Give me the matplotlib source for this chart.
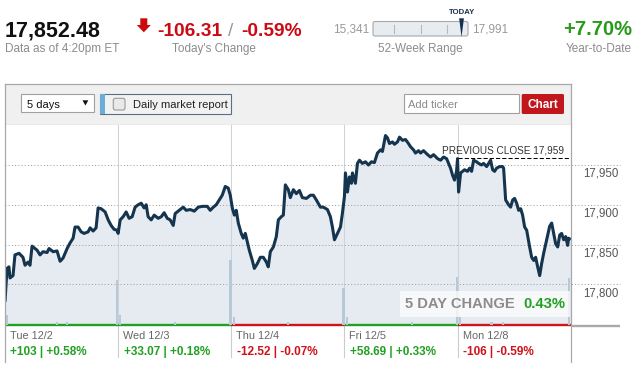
import matplotlib
matplotlib.use("Agg")
import matplotlib.pyplot as plt
from matplotlib.patches import Rectangle, Polygon, FancyBboxPatch
from matplotlib.transforms import blended_transform_factory, offset_copy

plt.rcParams['font.family'] = ['Liberation Sans', 'DejaVu Sans']

# ---------------- data ----------------
last_price = 17852.48
today_change = -106.31
today_pct = -0.59
week52_low = 15341
week52_high = 17991
ytd_pct = 7.70
prev_close = 17959
five_day_pct = 0.43

day_labels = ["Tue 12/2", "Wed 12/3", "Thu 12/4", "Fri 12/5", "Mon 12/8"]
day_change = [103, 33.07, -12.52, 58.69, -106]
day_pct = [0.58, 0.18, -0.07, 0.33, -0.59]

y_ticks = [17800, 17850, 17900, 17950]

# session time in trading days (0 = Tue open, 5 = Mon close)
times = [
    # Tue
    0.000, 0.018, 0.035, 0.044, 0.071, 0.088, 0.124, 0.159, 0.177, 0.204,
    0.221, 0.239, 0.283, 0.310, 0.336, 0.372, 0.389, 0.425, 0.460, 0.487,
    0.513, 0.549, 0.575, 0.602, 0.619, 0.646, 0.673, 0.699, 0.735, 0.752,
    0.779, 0.805, 0.823, 0.850, 0.885, 0.912, 0.938, 0.965, 0.991,
    # Wed
    1.000, 1.018, 1.044, 1.071, 1.097, 1.124, 1.150, 1.177, 1.204, 1.230,
    1.248, 1.265, 1.292, 1.319, 1.354, 1.381, 1.407, 1.434, 1.460, 1.487,
    1.504, 1.540, 1.575, 1.602, 1.637, 1.673, 1.708, 1.743, 1.788, 1.814,
    1.841, 1.867, 1.894, 1.920, 1.947, 1.973, 1.991,
    # Thu
    2.009, 2.027, 2.044, 2.062, 2.088, 2.106, 2.124, 2.142, 2.159, 2.186,
    2.204, 2.230, 2.257, 2.283, 2.310, 2.327, 2.345, 2.372, 2.398, 2.416,
    2.442, 2.460, 2.478, 2.504, 2.522, 2.549, 2.575, 2.602, 2.628, 2.664,
    2.699, 2.726, 2.752, 2.788, 2.814, 2.850, 2.876, 2.894, 2.912, 2.938,
    2.965, 2.982,
    # Fri
    3.000, 3.009, 3.027, 3.044, 3.062, 3.071, 3.097, 3.115, 3.133, 3.159,
    3.186, 3.212, 3.239, 3.265, 3.292, 3.319, 3.336, 3.363, 3.381, 3.398,
    3.425, 3.442, 3.469, 3.487, 3.513, 3.540, 3.566, 3.584, 3.611, 3.628,
    3.655, 3.673, 3.699, 3.735, 3.761, 3.788, 3.823, 3.850, 3.876, 3.903,
    3.920, 3.938, 3.956, 3.973, 3.991,
    # Mon
    4.000, 4.009, 4.027, 4.044, 4.062, 4.088, 4.106, 4.124, 4.142, 4.168,
    4.186, 4.212, 4.230, 4.257, 4.274, 4.292, 4.310, 4.327, 4.345, 4.372,
    4.398, 4.407, 4.425, 4.451, 4.469, 4.487, 4.504, 4.522, 4.540, 4.558,
    4.575, 4.593, 4.611, 4.637, 4.655, 4.673, 4.690, 4.708, 4.726, 4.743,
    4.761, 4.788, 4.814, 4.832, 4.850, 4.867, 4.885, 4.903, 4.920, 4.938,
    4.956, 4.973, 4.982, 5.000,
]
prices = [
    # Tue
    17778, 17820, 17822, 17808, 17811, 17837, 17839, 17834, 17824, 17828,
    17824, 17848, 17843, 17837, 17841, 17840, 17845, 17841, 17842, 17829,
    17833, 17845, 17852, 17858, 17872, 17872, 17866, 17864, 17866, 17871,
    17867, 17871, 17896, 17895, 17891, 17881, 17874, 17869, 17868,
    # Wed
    17864, 17881, 17885, 17891, 17883, 17885, 17897, 17900, 17902, 17896,
    17900, 17885, 17881, 17887, 17883, 17885, 17890, 17883, 17881, 17874,
    17889, 17893, 17897, 17893, 17894, 17892, 17897, 17898, 17898, 17893,
    17897, 17900, 17906, 17912, 17923, 17921, 17912,
    # Thu
    17896, 17887, 17893, 17877, 17864, 17858, 17864, 17853, 17843, 17830,
    17820, 17826, 17834, 17834, 17828, 17822, 17841, 17847, 17860, 17881,
    17885, 17887, 17925, 17919, 17909, 17919, 17914, 17918, 17909, 17908,
    17912, 17912, 17906, 17897, 17897, 17894, 17885, 17872, 17856, 17864,
    17872, 17889,
    # Fri
    17910, 17940, 17916, 17935, 17927, 17940, 17927, 17952, 17956, 17952,
    17954, 17950, 17954, 17953, 17965, 17969, 17967, 17987, 17984, 17977,
    17979, 17976, 17979, 17985, 17981, 17982, 17977, 17973, 17969, 17965,
    17968, 17965, 17968, 17963, 17960, 17963, 17958, 17956, 17960, 17958,
    17952, 17946, 17937, 17931, 17942,
    # Mon
    17958, 17916, 17940, 17942, 17944, 17942, 17946, 17942, 17956, 17954,
    17952, 17950, 17952, 17948, 17952, 17956, 17944, 17942, 17946, 17948,
    17948, 17946, 17906, 17900, 17897, 17906, 17908, 17902, 17893, 17895,
    17887, 17872, 17868, 17847, 17834, 17830, 17834, 17822, 17811, 17826,
    17839, 17856, 17873, 17877, 17864, 17851, 17847, 17862, 17864, 17856,
    17860, 17849, 17858, 17856,
]

vol_times = [0.015, 0.46, 0.55, 0.994, 1.02, 1.5, 1.993, 2.02, 2.5, 2.992,
             3.02, 3.6, 3.991, 4.02, 4.3, 4.4, 4.989]
vol_values = [10, 3, 3, 45, 10, 3, 65, 8, 3, 37,
              8, 3, 48, 8, 3, 3, 47]

# ---------------- layout helpers ----------------
W, H = 634, 368
fig = plt.figure(figsize=(W / 100, H / 100), dpi=100)
fig.patch.set_facecolor('white')


def px_rect(x0, y0, x1, y1):
    return [x0 / W, 1 - y1 / H, (x1 - x0) / W, (y1 - y0) / H]


GREEN = '#22a022'
RED = '#d0121b'
GRAY = '#8c8c8c'

# background overlay (pixel coords)
ov = fig.add_axes([0, 0, 1, 1])
ov.set_xlim(0, W)
ov.set_ylim(H, 0)
ov.axis('off')

# ---- header ----
ov.text(5, 36, f"{last_price:,.2f}", fontsize=15.5, fontweight='bold',
        color='#111111', va='baseline', ha='left')
ov.text(5, 52, "Data as of 4:20pm ET", fontsize=8.5, color=GRAY, va='baseline')

ov.add_patch(Polygon([(140.3, 18.3), (147.3, 18.3), (147.3, 25), (150.8, 25),
                      (143.8, 32.3), (136.8, 25), (140.3, 25)],
                     closed=True, fc='#cc0a0a', ec='none'))
ov.text(157, 36, f"{today_change:.2f}", fontsize=13.8, fontweight='bold',
        color='#cc0a14', va='baseline', ha='left')
ov.text(231, 36, "/", fontsize=13.8, color='#999999', va='baseline', ha='center')
ov.text(241, 36, f"{today_pct:.2f}%", fontsize=13.8, fontweight='bold',
        color='#cc0a14', va='baseline', ha='left')
ov.text(214, 52, "Today's Change", fontsize=8.5, color=GRAY, va='baseline', ha='center')

# 52-week range
bx0, bx1, by0, by1 = 373, 468, 21.5, 36
ov.text(369, 32, f"{week52_low:,}", fontsize=8.5, color='#999999', va='baseline', ha='right')
ov.text(472, 32, f"{week52_high:,}", fontsize=8.5, color='#999999', va='baseline', ha='left')
ov.add_patch(FancyBboxPatch((bx0, by0), bx1 - bx0, by1 - by0,
                            boxstyle='round,pad=0,rounding_size=2',
                            fc='#e7ecf1', ec='#a8a8a8', lw=0.8))
for tx in (394, 421, 447):
    ov.plot([tx, tx], [24.5, 33], color='#b8b8b8', lw=0.8)
frac = (last_price - week52_low) / (week52_high - week52_low)
mx = bx0 + frac * (bx1 - bx0) - 1.5
ov.add_patch(Polygon([(mx - 2.4, 18.3), (mx + 2.4, 18.3), (mx, 37)],
                     closed=True, fc='#13304f', ec='none'))
ov.text(mx + 1, 14, "TODAY", fontsize=5.6, fontweight='bold', color='#1b2f4d',
        va='baseline', ha='center')
ov.text(420, 52, "52-Week Range", fontsize=8.5, color=GRAY, va='baseline', ha='center')

ov.text(632, 35, f"{ytd_pct:+.2f}%", fontsize=14.5, fontweight='bold',
        color='#2a9a1a', va='baseline', ha='right')
ov.text(632, 52, "Year-to-Date", fontsize=8.5, color=GRAY, va='baseline', ha='right')

# ---- toolbar ----
ov.add_patch(Rectangle((4.5, 84), 566.2, 41, fc='#f0f0f0', ec='none'))
ov.plot([4.5, 570.7], [125, 125], color='#c4c4c4', lw=0.9)
# dropdown
ov.add_patch(Rectangle((20.7, 94), 73.6, 17.7, fc='white', ec='#a0a0a0', lw=0.8))
ov.text(26.7, 107.5, "5 days", fontsize=8, color='#111111', va='baseline')
ov.add_patch(Polygon([(82.5, 100.3), (88.3, 100.3), (85.4, 105.5)], closed=True,
                     fc='#111111', ec='none'))
# daily market report button
ov.add_patch(Rectangle((100, 94), 130.7, 20.3, fc='#f2f2f2', ec='#5a6e86', lw=0.8))
ov.add_patch(Rectangle((100.4, 94.4), 4.6, 19.5, fc='#6aaed6', ec='none'))
ov.add_patch(FancyBboxPatch((113.3, 98.3), 11.7, 11.7,
                            boxstyle='round,pad=0,rounding_size=2',
                            fc='#e9e9e9', ec='#9a9a9a', lw=0.8))
ov.text(132.7, 107.5, "Daily market report", fontsize=8, color='#222222', va='baseline')
# add ticker
ov.add_patch(Rectangle((404.3, 94), 114.7, 19.3, fc='white', ec='#a0a0a0', lw=0.8))
ov.text(407.5, 108, "Add ticker", fontsize=8, color='#8a8a8a', va='baseline')
ov.add_patch(FancyBboxPatch((521.7, 94), 42.3, 20, boxstyle='round,pad=0,rounding_size=1.5',
                            fc='#c0161c', ec='none'))
ov.text(542.8, 108.3, "Chart", fontsize=8.5, fontweight='bold', color='white',
        va='baseline', ha='center')

# ---------------- chart ----------------
ax = fig.add_axes(px_rect(5, 125, 570.7, 325))
ax.set_xlim(0, 5)
ax.set_ylim(17748.9, 18000.25)
ax.set_facecolor('white')
for s in ax.spines.values():
    s.set_visible(False)
ax.set_xticks([])
ax.set_yticks([])

ybot = ax.get_ylim()[0]
ax.fill_between(times, prices, ybot, color='#e6ebf1', lw=0, zorder=1)
for i in range(1, len(day_labels)):
    ax.axvline(i, color='#cdd3d9', lw=0.75, zorder=1.6)
ext = (620 - 5) / (570.7 - 5)
for v in y_ticks:
    ax.axhline(v, xmin=0, xmax=ext, clip_on=False, color='#9c9c9c', lw=0.72,
               ls=(0, (1, 2.2)), zorder=1.7)

ax.plot(times, prices, color='#15354f', lw=2.2, zorder=3,
        solid_joinstyle='round', solid_capstyle='butt')

# previous close
ax.hlines(prev_close, len(day_labels) - 1, len(day_labels), color='black', lw=0.75,
          ls=(0, (4, 2)), zorder=3.5)
ax.text(4.94, prev_close, f"PREVIOUS CLOSE {prev_close:,}", fontsize=7.2,
        color='#333333', ha='right', va='baseline', zorder=4,
        transform=offset_copy(ax.transData, fig=fig, x=0, y=4, units='dots'))

# y tick labels
ytrans = blended_transform_factory(ax.transAxes, ax.transData)
for v in y_ticks:
    ax.text(1, v, f"{v:,}", fontsize=8.3, color='#555555', ha='left', va='baseline',
            transform=offset_copy(ytrans, fig=fig, x=12.3, y=-11.7, units='dots'),
            clip_on=False)

# day bars and labels
xtrans = blended_transform_factory(ax.transData, ax.transAxes)
for i, (lab, ch, pc) in enumerate(zip(day_labels, day_change, day_pct)):
    col = GREEN if ch > 0 else RED
    ax.plot([i, i + 1], [0, 0], transform=xtrans, color=col, lw=1.7,
            solid_capstyle='butt', clip_on=False, zorder=6)
    if i > 0:
        ax.plot([i, i], [0, -32 / 200], transform=xtrans, color='#cccccc', lw=0.8,
                clip_on=False, zorder=5)
    ax.text(i, 0, lab, fontsize=7.8, color='#666666', ha='left', va='baseline',
            transform=offset_copy(xtrans, fig=fig, x=5, y=-14, units='dots'))
    ax.text(i, 0, f"{ch:+g} | {pc:+.2f}%", fontsize=8.5, fontweight='bold', color=col,
            ha='left', va='baseline',
            transform=offset_copy(xtrans, fig=fig, x=5.5, y=-30.5, units='dots'))

# volume
ax2 = ax.twinx()
ax2.set_ylim(0, 200)
ax2.bar(vol_times, vol_values, width=0.018, color='#b7c8d7', lw=0, zorder=2)
ax2.axis('off')

# ---------------- top overlay ----------------
top = fig.add_axes([0, 0, 1, 1])
top.set_xlim(0, W)
top.set_ylim(H, 0)
top.axis('off')
top.patch.set_alpha(0)

# panel borders
top.plot([4.5, 570.7], [84, 84], color='#a8a8a8', lw=0.9)
top.plot([4.5, 4.5], [84, 362], color='#a8a8a8', lw=0.9)
top.plot([570.7, 570.7], [84, 362], color='#a8a8a8', lw=0.9)
top.plot([570.7, 620], [325.5, 325.5], color='#a9a9a9', lw=1.7, solid_capstyle='butt')

# 5 day change box
top.add_patch(Rectangle((400, 290.7), 170.3, 26, fc='#fbfcfd', alpha=0.8, ec='none'))
top.text(405, 308.3, "5 DAY CHANGE", fontsize=10.6, fontweight='bold', color='#8c8c8c',
         va='baseline', ha='left')
top.text(565.5, 308.3, f"{five_day_pct:.2f}%", fontsize=10.6, fontweight='bold',
         color='#22a022', va='baseline', ha='right')

fig.savefig('out.png', dpi=100)
